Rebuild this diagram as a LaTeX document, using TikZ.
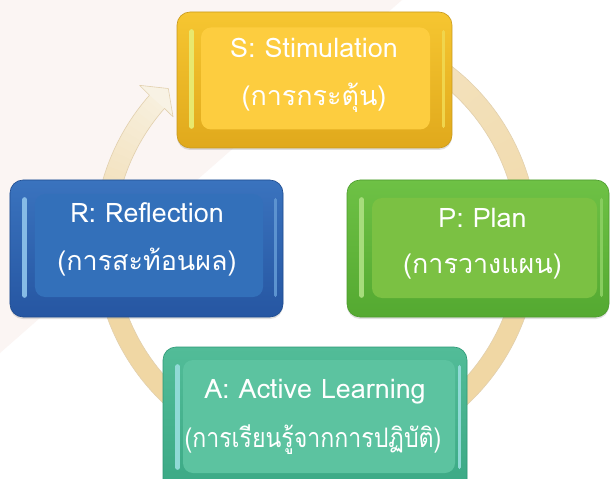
\documentclass[tikz,border=0pt]{standalone}
\usepackage{fontspec}
\newfontfamily\thaifont[Script=Thai]{Loma}
\usetikzlibrary{calc,shadows}
\definecolor{bgpink}{HTML}{FBF5F3}
\definecolor{ringdark}{HTML}{F0D7A4}
\definecolor{ringlight}{HTML}{F8F2E4}
\definecolor{ringedge}{HTML}{E2D0AE}
% yellow
\definecolor{yelEdge}{HTML}{C99A1C}
\definecolor{yelTop}{HTML}{F6C631}
\definecolor{yelBot}{HTML}{E0A91C}
\definecolor{yelFace}{HTML}{FDCD3F}
\definecolor{yelHi}{HTML}{E8E86E}
% green
\definecolor{grnEdge}{HTML}{4C9C2D}
\definecolor{grnTop}{HTML}{6EC145}
\definecolor{grnBot}{HTML}{54A931}
\definecolor{grnFace}{HTML}{7BC143}
\definecolor{grnHi}{HTML}{A6DC7C}
% blue
\definecolor{bluEdge}{HTML}{1E4C90}
\definecolor{bluTop}{HTML}{3A73BE}
\definecolor{bluBot}{HTML}{2656A2}
\definecolor{bluFace}{HTML}{3370BA}
\definecolor{bluHi}{HTML}{86BBE6}
% teal
\definecolor{telEdge}{HTML}{2D9876}
\definecolor{telTop}{HTML}{52BC98}
\definecolor{telBot}{HTML}{3AA884}
\definecolor{telFace}{HTML}{5CC3A0}
\definecolor{telHi}{HTML}{90DAD6}
\tikzset{
  frame/.style={draw=#1Edge, line width=0.6bp, top color=#1Top, bottom color=#1Bot,
    rounded corners=13bp, inner sep=0pt,
    drop shadow={opacity=0.25, shadow xshift=0bp, shadow yshift=-2bp}},
  face/.style={fill=#1Face, rounded corners=10bp, inner sep=0pt},
  hilite/.style={draw=#1Hi, line width=5bp, line cap=round},
  rhilite/.style={draw=#1Hi!45!#1Top, line width=3.5bp, line cap=round},
  txt/.style={text=white, font=\thaifont\fontsize{27}{30}\selectfont, anchor=base, inner sep=0pt},
}
\begin{document}
\begin{tikzpicture}[x=1bp,y=-1bp]
\useasboundingbox (0,0) rectangle (610,479);
\fill[white] (0,0) rectangle (610,479);
\fill[bgpink] (0,0) -- (402,0) -- (0,353) -- cycle;
% ring arrow
\coordinate (O) at (316,242);
\foreach \a in {270,272,...,580}{
  \pgfmathsetmacro\t{min(min(100,60+max(0,\a-300)/2),100-max(0,\a-530)*1.75)}
  \draw[line width=20bp, color=ringdark!\t!ringlight]
    ([shift={(O)}]\a:212) arc[start angle=\a, end angle=\a+2.4, radius=212];
}
\coordinate (hbo) at ([shift={(O)}]581.6:236);
\coordinate (hbi) at ([shift={(O)}]581.2:190);
\coordinate (htip) at ([shift={(O)}]586.1:213);
\fill[ringlight] ([shift={(O)}]581.4:222) -- (hbo) -- (htip) -- (hbi) -- ([shift={(O)}]581.4:202) -- cycle;
\draw[ringedge, line width=0.6bp, line join=round]
  ([shift={(O)}]560:222) arc[start angle=560, end angle=581.4, radius=222]
  -- (hbo) -- (htip) -- (hbi) -- ([shift={(O)}]581.4:202)
  arc[start angle=581.4, end angle=560, radius=202];
\draw[ringedge, line width=0.6bp]
  ([shift={(O)}]300:222) arc[start angle=300, end angle=560, radius=222];
\draw[ringedge, line width=0.6bp]
  ([shift={(O)}]300:202) arc[start angle=300, end angle=560, radius=202];
% S box
\node[frame=yel, minimum width=275bp, minimum height=136bp] (S) at (314.5,80) {};
\node[face=yel, minimum width=229bp, minimum height=102bp] (Sf) at (315.5,78.5) {};
\draw[hilite=yel] ($(S.north west)+(15,20)$) -- ($(S.south west)+(15,-22)$);
\draw[rhilite=yel] ($(S.north east)+(-9,20)$) -- ($(S.south east)+(-9,-22)$);
\node[txt] (S1) at (314,58) {S:\ Stimulation};
\node[txt] (S2) at (314,106) {(การกระตุ้น)};
% P box
\node[frame=grn, minimum width=262bp, minimum height=137bp] (P) at (478,248.5) {};
\node[face=grn, minimum width=225bp, minimum height=100bp] (Pf) at (484.5,248) {};
\draw[hilite=grn] ($(P.north west)+(15,20)$) -- ($(P.south west)+(15,-22)$);
\draw[rhilite=grn] ($(P.north east)+(-8,20)$) -- ($(P.south east)+(-8,-22)$);
\node[txt] (P1) at (482.5,228) {P:\ Plan};
\node[txt] (P2) at (482.5,273) {(การวางแผน)};
% R box
\node[frame=blu, minimum width=273bp, minimum height=137bp] (R) at (146.5,248.5) {};
\node[face=blu, minimum width=228bp, minimum height=103bp] (Rf) at (149,245.5) {};
\draw[hilite=blu] ($(R.north west)+(15,20)$) -- ($(R.south west)+(15,-22)$);
\draw[rhilite=blu] ($(R.north east)+(-8,20)$) -- ($(R.south east)+(-8,-22)$);
\node[txt] (R1) at (147,223) {R:\ Reflection};
\node[txt] (R2) at (147,270) {(การสะท้อนผล)};
% A box
\node[frame=tel, minimum width=304bp, minimum height=150bp] (A) at (315,422) {};
\node[face=tel, minimum width=272bp, minimum height=113bp] (Af) at (319,416.5) {};
\draw[hilite=tel] ($(A.north west)+(15,20)$) -- ($(A.south west)+(15,-30)$);
\draw[rhilite=tel, draw=telHi] ($(A.north east)+(-8,20)$) -- ($(A.south east)+(-8,-30)$);
\node[txt] (A1) at (315,398) {A:\ Active Learning};
\node[txt] (A2) at (313,447) {\scalebox{0.86}[1]{(การเรียนรู้จากการปฏิบัติ)}};
\end{tikzpicture}
\end{document}
